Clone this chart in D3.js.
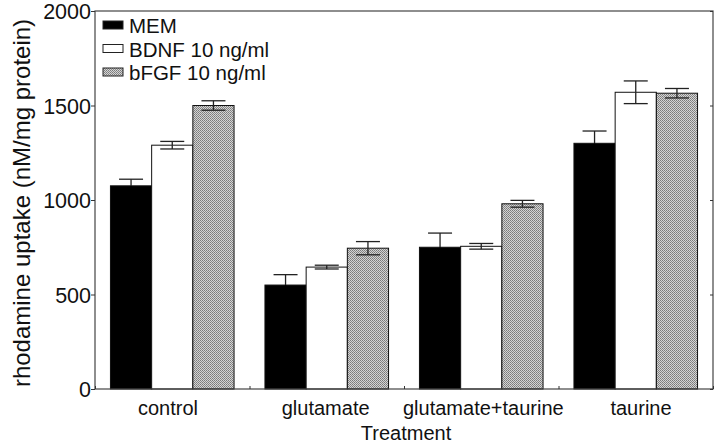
<!DOCTYPE html>
<html><head><meta charset="utf-8">
<script src="https://cdn.jsdelivr.net/npm/d3@7"></script>
<style>body{margin:0;background:#fff}svg{display:block;font-family:"Liberation Sans",Arial,sans-serif}</style>
</head><body><svg id="c" width="720" height="444"></svg>
<script>
const categories = ["control","glutamate","glutamate+taurine","taurine"];
const seriesNames = ["MEM","BDNF 10 ng/ml","bFGF 10 ng/ml"];
const memValues  = [1075, 550, 750, 1300];
const memErrors  = [35, 55, 75, 65];
const bdnfValues = [1290, 645, 755, 1570];
const bdnfErrors = [20, 10, 15, 60];
const bfgfValues = [1500, 745, 980, 1565];
const bfgfErrors = [25, 35, 18, 25];
const yTicks = [0, 500, 1000, 1500, 2000];

const series = [
  {name: seriesNames[0], values: memValues, errors: memErrors, fill: "#000", lowColor: "#000"},
  {name: seriesNames[1], values: bdnfValues, errors: bdnfErrors, fill: "#fff", lowColor: "#222"},
  {name: seriesNames[2], values: bfgfValues, errors: bfgfErrors, fill: "url(#stip)", lowColor: "#222"}
];

const svg = d3.select("#c");
const m = {l: 95, r: 713, t: 11, b: 389};

const defs = svg.append("defs");
const pat = defs.append("pattern").attr("id","stip").attr("patternUnits","userSpaceOnUse")
  .attr("width",2).attr("height",2);
pat.append("rect").attr("width",2).attr("height",2).attr("fill","#d4d4d4");
pat.append("rect").attr("width",1).attr("height",1).attr("fill","#7a7a7a");
pat.append("rect").attr("x",1).attr("y",1).attr("width",1).attr("height",1).attr("fill","#8a8a8a");

const x0 = d3.scaleBand().domain(categories).range([m.l, m.r]).paddingInner(0).paddingOuter(0);
const x1 = d3.scaleBand().domain(seriesNames).range([x0.bandwidth()*0.1, x0.bandwidth()*0.9]).padding(0);
const y = d3.scaleLinear().domain([0, 2000]).range([m.b, m.t]);

// bars
series.forEach(s => {
  const g = svg.append("g");
  g.selectAll("rect").data(categories).join("rect")
    .attr("x", (c) => x0(c) + x1(s.name))
    .attr("y", (c,i) => y(s.values[i]))
    .attr("width", x1.bandwidth())
    .attr("height", (c,i) => y(0) - y(s.values[i]))
    .attr("fill", s.fill)
    .attr("stroke", "#111").attr("stroke-width", 1);
  const eg = svg.append("g").attr("stroke-width", 1.3);
  categories.forEach((c, i) => {
    const cx = x0(c) + x1(s.name) + x1.bandwidth()/2;
    const v = y(s.values[i]);
    const hi = y(s.values[i] + s.errors[i]);
    const lo = y(s.values[i] - s.errors[i]);
    const w = 12;
    eg.append("line").attr("stroke", "#222").attr("x1", cx).attr("x2", cx).attr("y1", hi).attr("y2", v);
    eg.append("line").attr("stroke", "#222").attr("x1", cx-w).attr("x2", cx+w).attr("y1", hi).attr("y2", hi);
    eg.append("line").attr("stroke", s.lowColor).attr("x1", cx).attr("x2", cx).attr("y1", v).attr("y2", lo);
    eg.append("line").attr("stroke", s.lowColor).attr("x1", cx-w).attr("x2", cx+w).attr("y1", lo).attr("y2", lo);
  });
});

// frame
svg.append("rect").attr("x", m.l).attr("y", m.t).attr("width", m.r - m.l).attr("height", m.b - m.t)
  .attr("fill", "none").attr("stroke", "#444").attr("stroke-width", 1.2);

// y axis
const yAxis = d3.axisLeft(y).tickValues(yTicks).tickSize(4).tickFormat(d3.format("d"));
const ya = svg.append("g").attr("transform", `translate(${m.l},0)`).call(yAxis);
ya.select(".domain").remove();
ya.selectAll("text").attr("font-size", 21.5).attr("fill", "#111").attr("x", -4).attr("dy", "0.36em");
ya.selectAll("line").attr("stroke", "#333");
const yr = svg.append("g").attr("transform", `translate(${m.r},0)`).call(d3.axisLeft(y).tickValues(yTicks).tickSize(3).tickFormat(""));
yr.select(".domain").remove();
yr.selectAll("line").attr("stroke", "#333");

// x ticks between groups
const xa = svg.append("g").attr("transform", `translate(0,${m.b})`)
  .call(d3.axisTop(d3.scalePoint().domain(d3.range(categories.length+1)).range([m.l, m.r])).tickSize(3).tickFormat(""));
xa.select(".domain").remove();
xa.selectAll("line").attr("stroke", "#333");

// category labels
const xl = d3.scalePoint().domain(categories).range([168, 641]);
svg.append("g").selectAll("text").data(categories).join("text")
  .attr("x", d => xl(d)).attr("y", 415).attr("text-anchor", "middle")
  .attr("font-size", 20).attr("fill", "#111").text(d => d);

svg.append("text").attr("x", 406).attr("y", 440).attr("text-anchor", "middle")
  .attr("font-size", 20).attr("fill", "#111").text("Treatment");

svg.append("text").attr("transform", "translate(30,203) rotate(-90)").attr("text-anchor", "middle")
  .attr("font-size", 24).attr("fill", "#111").text("rhodamine uptake (nM/mg protein)");

// legend
const lg = svg.append("g");
series.forEach((s, i) => {
  const yy = 33 + i * 23.5;
  lg.append("rect").attr("x", 103).attr("y", yy - 12).attr("width", 20).attr("height", 8)
    .attr("fill", s.fill).attr("stroke", "#222").attr("stroke-width", 1);
  lg.append("text").attr("x", 129).attr("y", yy).attr("font-size", 20.5).attr("fill", "#111").text(s.name);
});
</script></body></html>
